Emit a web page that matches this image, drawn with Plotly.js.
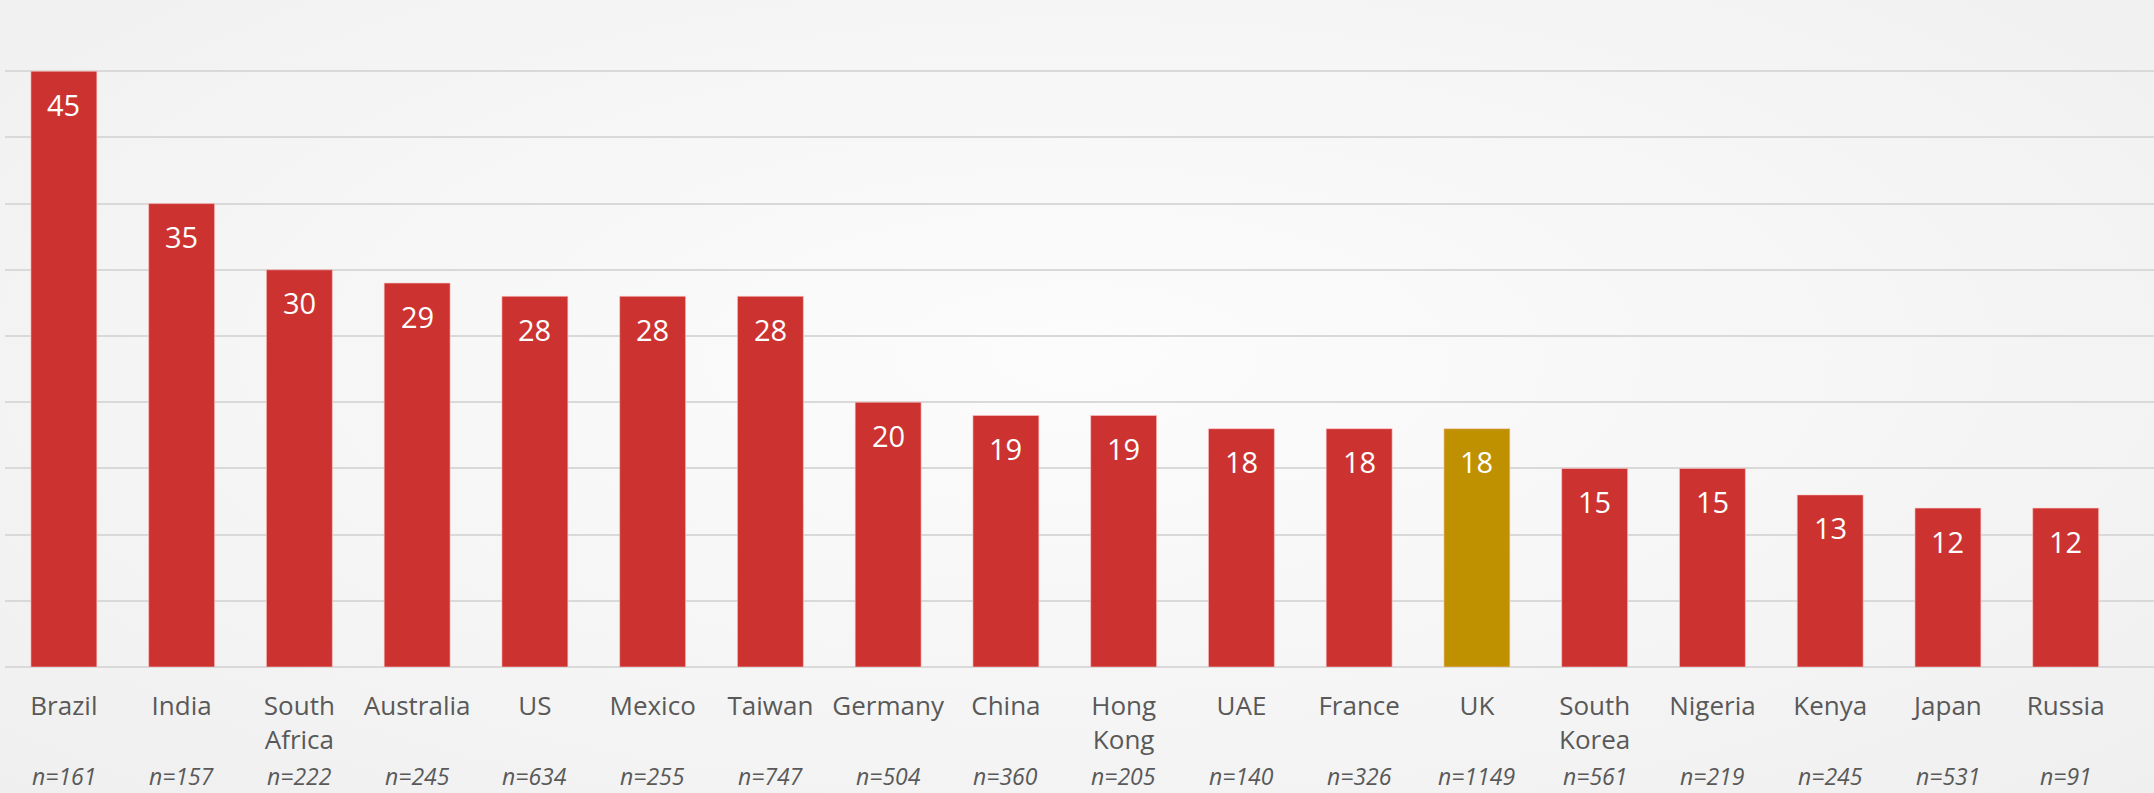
<!DOCTYPE html>
<html>
<head>
<meta charset="utf-8">
<script src="https://cdn.plot.ly/plotly-3.0.1.min.js"></script>
<style>
  html, body { margin: 0; padding: 0; }
  body { width: 2154px; height: 793px;
    background: radial-gradient(ellipse at 50% 45%, #fcfcfc 0%, #f6f6f6 50%, #efefef 100%); }
  #chart { width: 2154px; height: 793px; }
</style>
</head>
<body>
<div id="chart"></div>
<script>
const countries = ["Brazil","India","South Africa","Australia","US","Mexico","Taiwan","Germany","China","Hong Kong","UAE","France","UK","South Korea","Nigeria","Kenya","Japan","Russia"];
const tickLabels = ["Brazil","India","South<br>Africa","Australia","US","Mexico","Taiwan","Germany","China","Hong<br>Kong","UAE","France","UK","South<br>Korea","Nigeria","Kenya","Japan","Russia"];
const values = [45,35,30,29,28,28,28,20,19,19,18,18,18,15,15,13,12,12];
const sampleSizes = [161,157,222,245,634,255,747,504,360,205,140,326,1149,561,219,245,531,91];
const highlight = "UK";

const red = "#CC3330", gold = "#BF9000";
const colors = countries.map(c => c === highlight ? gold : red);
const idx = countries.map((c, i) => i);

const trace = {
  type: "bar",
  x: idx,
  y: values,
  width: 0.56,
  marker: { color: colors, line: { color: "rgba(255,200,200,0.6)", width: 1 } },
  hoverinfo: "skip"
};

const annotations = [];
values.forEach((v, i) => {
  annotations.push({
    x: i, y: v, xref: "x", yref: "y", text: String(v), showarrow: false,
    yanchor: "middle", yshift: -33,
    font: { family: "Open Sans", size: 29, color: "#ffffff" }
  });
  annotations.push({
    x: i, y: 0, xref: "x", yref: "paper", text: "<i>n=" + sampleSizes[i] + "</i>", showarrow: false,
    yanchor: "middle", yshift: -109,
    font: { family: "Open Sans", size: 23, color: "#595959" }
  });
});

const layout = {
  width: 2154, height: 793,
  margin: { l: 5, r: 0, t: 5, b: 126 },
  paper_bgcolor: "rgba(0,0,0,0)",
  plot_bgcolor: "rgba(0,0,0,0)",
  showlegend: false,
  xaxis: {
    range: [-0.5, 17.75],
    tickvals: idx, ticktext: tickLabels,
    showgrid: false, zeroline: false, showline: false, ticks: "",
    tickfont: { family: "Open Sans", size: 26, color: "#595959" },
    ticklabelstandoff: 21,
    fixedrange: true
  },
  yaxis: {
    range: [0, 50], dtick: 5, tick0: 0,
    showgrid: true, gridcolor: "#d9d9d9", gridwidth: 2,
    zeroline: true, zerolinecolor: "#d9d9d9", zerolinewidth: 2,
    showticklabels: false, ticks: "",
    fixedrange: true
  },
  annotations: annotations
};

Plotly.newPlot("chart", [trace], layout, { displayModeBar: false, staticPlot: true });
</script>
</body>
</html>
